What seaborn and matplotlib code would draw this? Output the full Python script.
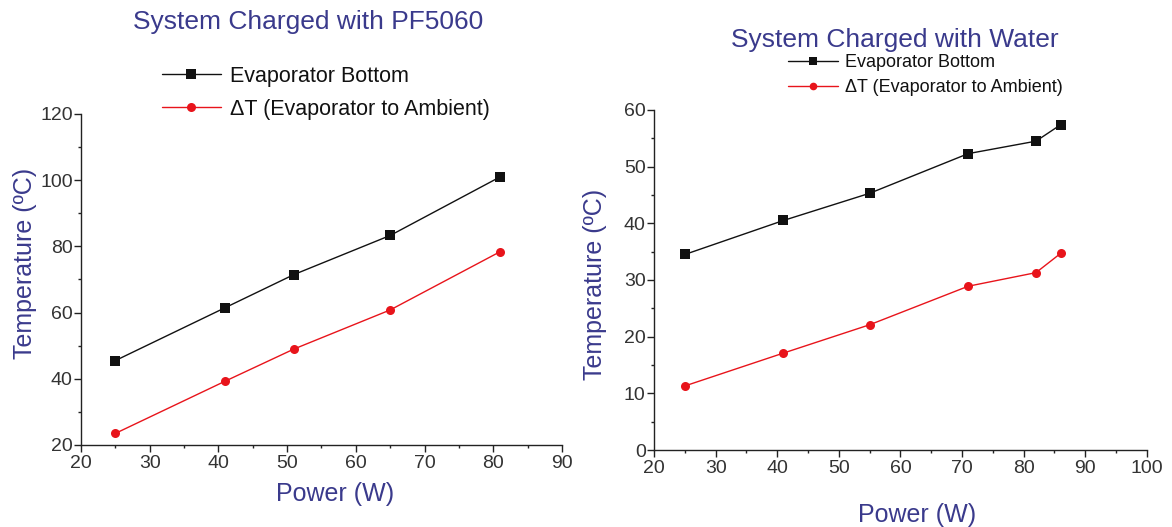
import numpy as np
import pandas as pd
import matplotlib
matplotlib.use("Agg")
import matplotlib.pyplot as plt
import seaborn as sns
from matplotlib.ticker import MultipleLocator
from matplotlib.lines import Line2D

# ---- data ----
pf_power = [25, 41, 51, 65, 81]
pf_evap = [45.5, 61.5, 71.5, 83.3, 101.0]
pf_dt = [23.5, 39.3, 49.0, 60.8, 78.4]

w_power = [25, 41, 55, 71, 82, 86]
w_evap = [34.5, 40.5, 45.3, 52.3, 54.5, 57.4]
w_dt = [11.3, 17.1, 22.1, 28.9, 31.3, 34.7]

s_evap = "Evaporator Bottom"
s_dt = "\u0394T (Evaporator to Ambient)"

sns.set_theme(style="ticks")
fam = ["Liberation Sans", "DejaVu Sans"]
plt.rcParams["font.family"] = fam

label_color = "#3a3a8c"
tick_color = "#333333"
black = "#111111"
red = "#e8141b"

fig = plt.figure(figsize=(11.72, 5.27), dpi=100)
axL = fig.add_axes([0.0691, 0.1556, 0.4104, 0.6281])
axR = fig.add_axes([0.5580, 0.1461, 0.4206, 0.6452])


def make_df(power, evap, dt):
    return pd.DataFrame({
        "power": list(power) + list(power),
        "temp": list(evap) + list(dt),
        "series": [s_evap] * len(power) + [s_dt] * len(power),
    })


def draw(ax, df, xlim, ylim, xmaj, ymaj, yminor):
    sns.lineplot(data=df, x="power", y="temp", hue="series", style="series",
                 markers={s_evap: "s", s_dt: "o"}, dashes=False,
                 palette={s_evap: black, s_dt: red},
                 markersize=6.5, markeredgewidth=0, linewidth=1.0,
                 ax=ax, legend=False, sort=False)
    ax.set_xlim(*xlim)
    ax.set_ylim(*ylim)
    ax.xaxis.set_major_locator(MultipleLocator(xmaj))
    ax.xaxis.set_minor_locator(MultipleLocator(xmaj / 2))
    ax.yaxis.set_major_locator(MultipleLocator(ymaj))
    ax.yaxis.set_minor_locator(MultipleLocator(yminor))
    sns.despine(ax=ax)
    for s in ["left", "bottom"]:
        ax.spines[s].set_linewidth(1.0)
        ax.spines[s].set_color("#222222")
    ax.tick_params(which="major", direction="out", length=5, width=1.0,
                   colors="#222222", labelcolor=tick_color, labelsize=14)
    ax.tick_params(axis="x", which="major", pad=2)
    ax.tick_params(axis="y", which="major", pad=1)
    ax.tick_params(which="minor", direction="out", length=2.5, width=1.0,
                   colors="#222222")
    ax.set_xlabel("Power (W)", fontsize=18, color=label_color)
    ax.set_ylabel("Temperature (\u00baC)", fontsize=18, color=label_color)


draw(axL, make_df(pf_power, pf_evap, pf_dt), (20, 90), (20, 120), 10, 20, 10)
draw(axR, make_df(w_power, w_evap, w_dt), (20, 100), (0, 60), 10, 10, 5)

axL.xaxis.set_label_coords(0.528, -0.113)
axL.yaxis.set_label_coords(-0.0915, 0.547)
axR.xaxis.set_label_coords(0.533, -0.155)
axR.yaxis.set_label_coords(-0.095, 0.487)

fig.text(0.2628, 0.958, "System Charged with PF5060", fontsize=19,
         color=label_color, ha="center", va="center")
fig.text(0.7637, 0.925, "System Charged with Water", fontsize=19,
         color=label_color, ha="center", va="center")


def legend_handles(ms):
    return [Line2D([], [], color=black, marker="s", markersize=ms,
                   markeredgewidth=0, linewidth=1.0),
            Line2D([], [], color=red, marker="o", markersize=ms,
                   markeredgewidth=0, linewidth=1.0)]


legL = fig.legend(legend_handles(6.5), [s_evap, s_dt], loc="center left",
                  bbox_to_anchor=(0.138, 0.824), bbox_transform=fig.transFigure,
                  frameon=False, prop={"family": fam, "size": 15.5},
                  handlelength=2.74, handletextpad=0.42, labelspacing=0.54,
                  borderaxespad=0, borderpad=0)
legR = fig.legend(legend_handles(5.5), [s_evap, s_dt], loc="center left",
                  bbox_to_anchor=(0.6724, 0.8577), bbox_transform=fig.transFigure,
                  frameon=False, prop={"family": fam, "size": 13},
                  handlelength=2.77, handletextpad=0.39, labelspacing=0.46,
                  borderaxespad=0, borderpad=0)
for leg in (legL, legR):
    for t in leg.get_texts():
        t.set_color(black)

fig.savefig("out.png", dpi=100, facecolor="white")
